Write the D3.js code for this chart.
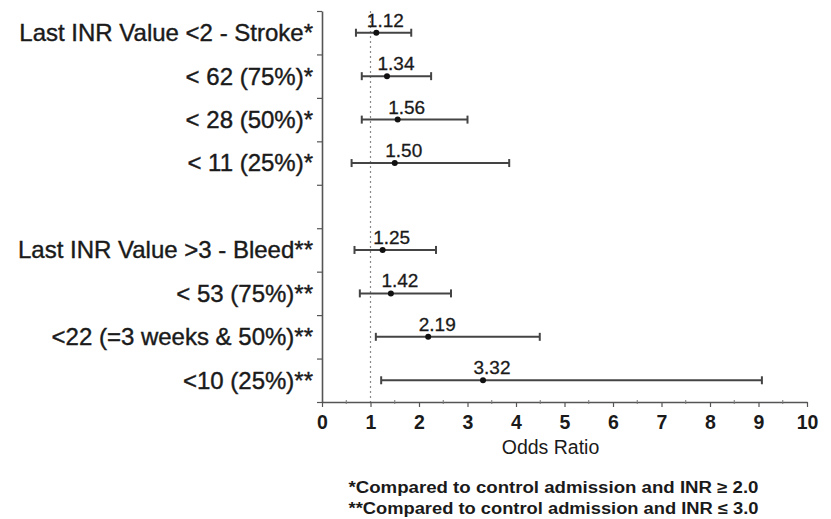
<!DOCTYPE html>
<html>
<head>
<meta charset="utf-8">
<script src="https://cdn.jsdelivr.net/npm/d3@7"></script>
<style>
  html, body { margin: 0; padding: 0; background: #fff; }
  svg text { font-family: "Liberation Sans", Arial, sans-serif; fill: #1a1a1a; }
</style>
</head>
<body>
<svg id="chart" width="831" height="519"></svg>
<script>
// rows of the forest plot, top to bottom ("" is the spacer row)
const rowLabels = [
  "Last INR Value <2 - Stroke*",
  "< 62 (75%)*",
  "< 28 (50%)*",
  "< 11 (25%)*",
  "",
  "Last INR Value >3 - Bleed**",
  "< 53 (75%)**",
  "<22 (=3 weeks & 50%)**",
  "<10 (25%)**"
];
const oddsRatio = [1.12, 1.34, 1.56, 1.50, null, 1.25, 1.42, 2.19, 3.32];
const ciLow     = [0.70, 0.82, 0.82, 0.61, null, 0.67, 0.78, 1.11, 1.22];
const ciHigh    = [1.84, 2.25, 3.00, 3.86, null, 2.35, 2.66, 4.49, 9.07];

const xTickValues = [0, 1, 2, 3, 4, 5, 6, 7, 8, 9, 10];
const xMinorTicks = [0.5, 1.5, 2.5, 3.5, 4.5, 5.5, 6.5, 7.5, 8.5, 9.5];
const refValue = 1;
const xTitle = "Odds Ratio";
const footnotes = [
  "*Compared to control admission and INR \u2265 2.0",
  "**Compared to control admission and INR \u2264 3.0"
];

const svg = d3.select("#chart");
const margin = {top: 11, left: 322, right: 24, bottom: 117};
const plotW = 831 - margin.left - margin.right;
const plotH = 519 - margin.top - margin.bottom;

const x = d3.scaleLinear().domain([0, 10]).range([0, plotW]);
const y = d3.scaleLinear().domain([0, rowLabels.length]).range([0, plotH]);

const g = svg.append("g").attr("transform", "translate(" + margin.left + "," + margin.top + ")");

let rows = rowLabels.map((label, i) => ({
  label: label, or: oddsRatio[i], lo: ciLow[i], hi: ciHigh[i], yc: y(i + 0.5)
}));

// dotted reference line at OR = 1
g.append("line")
  .attr("x1", x(refValue)).attr("x2", x(refValue))
  .attr("y1", 0).attr("y2", plotH)
  .attr("stroke", "#888")
  .attr("stroke-width", 1.2)
  .attr("stroke-dasharray", "2,3");

// y axis (ticks on row boundaries)
let yAxis = d3.axisLeft(y)
  .tickValues(d3.range(0, rowLabels.length + 1))
  .tickFormat("")
  .tickSize(5)
  .tickSizeOuter(0);
let yG = g.append("g").call(yAxis);
yG.select(".domain").attr("stroke", "#555").attr("stroke-width", 1.6);
yG.selectAll(".tick line").attr("stroke", "#555").attr("stroke-width", 1.2);

// x axis
let xAxis = d3.axisBottom(x).tickValues(xTickValues).tickSize(5).tickSizeOuter(0).tickPadding(8);
let xG = g.append("g").attr("transform", "translate(0," + plotH + ")").call(xAxis);
xG.select(".domain").attr("stroke", "#555").attr("stroke-width", 1.6);
xG.selectAll(".tick line").attr("stroke", "#555").attr("stroke-width", 1.2);
xG.selectAll(".tick text")
  .attr("font-size", 19.5)
  .attr("font-weight", "bold")
  .attr("fill", "#1a1a1a")
  .style("font-family", "'Liberation Sans', Arial, sans-serif");

g.append("g").selectAll("line.minor")
  .data(xMinorTicks)
  .enter().append("line")
  .attr("class", "minor")
  .attr("x1", d => x(d)).attr("x2", d => x(d))
  .attr("y1", plotH - 2).attr("y2", plotH + 2)
  .attr("stroke", "#777")
  .attr("stroke-width", 1);

// row labels
g.append("g").selectAll("text.rowlab")
  .data(rows)
  .enter().append("text")
  .attr("class", "rowlab")
  .attr("x", -9)
  .attr("y", d => d.yc)
  .attr("dy", "0.35em")
  .attr("text-anchor", "end")
  .attr("font-size", 24)
  .attr("stroke", "#1a1a1a")
  .attr("stroke-width", 0.4)
  .text(d => d.label);

let est = rows.filter(d => d.or !== null);

// confidence interval lines
g.append("g").selectAll("line.ci")
  .data(est)
  .enter().append("line")
  .attr("class", "ci")
  .attr("x1", d => x(d.lo)).attr("x2", d => x(d.hi))
  .attr("y1", d => d.yc).attr("y2", d => d.yc)
  .attr("stroke", "#444")
  .attr("stroke-width", 2);

// caps
["lo", "hi"].forEach(k => {
  g.append("g").selectAll("line.cap")
    .data(est)
    .enter().append("line")
    .attr("x1", d => x(d[k])).attr("x2", d => x(d[k]))
    .attr("y1", d => d.yc - 4).attr("y2", d => d.yc + 4)
    .attr("stroke", "#444")
    .attr("stroke-width", 2);
});

// point estimates
g.append("g").selectAll("circle")
  .data(est)
  .enter().append("circle")
  .attr("cx", d => x(d.or))
  .attr("cy", d => d.yc)
  .attr("r", 3)
  .attr("fill", "#111");

// value labels
g.append("g").selectAll("text.val")
  .data(est)
  .enter().append("text")
  .attr("class", "val")
  .attr("x", d => x(d.or) + 9)
  .attr("y", d => d.yc - 6)
  .attr("text-anchor", "middle")
  .attr("font-size", 19)
  .attr("stroke", "#1a1a1a")
  .attr("stroke-width", 0.3)
  .text(d => d.or.toFixed(2));

// axis title
g.append("text")
  .attr("x", plotW / 2 - 14)
  .attr("y", plotH + 52)
  .attr("text-anchor", "middle")
  .attr("font-size", 19.5)
  .text(xTitle);

// footnotes
g.append("g").selectAll("text.note")
  .data(footnotes)
  .enter().append("text")
  .attr("class", "note")
  .attr("x", plotW / 2 - 11)
  .attr("y", (d, i) => plotH + 91 + i * 21)
  .attr("text-anchor", "middle")
  .attr("font-size", 16)
  .attr("font-weight", "bold")
  .attr("textLength", 410)
  .attr("lengthAdjust", "spacingAndGlyphs")
  .text(d => d);
</script>
</body>
</html>
